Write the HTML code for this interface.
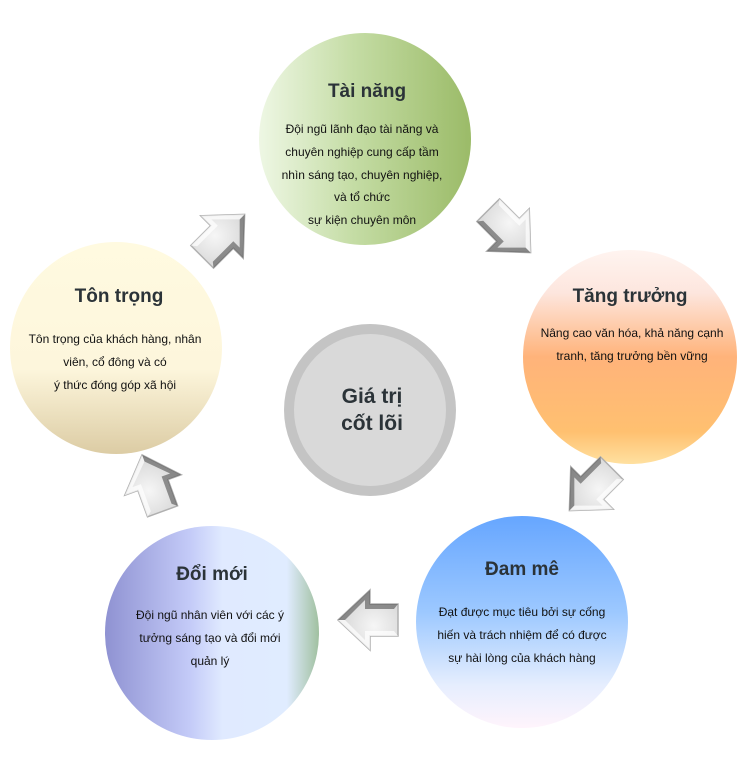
<!DOCTYPE html>
<html><head><meta charset="utf-8"><style>
body{margin:0;background:#fff;width:754px;height:768px;overflow:hidden}
svg text{font-family:"Liberation Sans",sans-serif;fill:#111}
.t{font-weight:bold;font-size:19px;fill:#2b3338}
.b{font-size:12px}
</style></head><body>
<svg width="754" height="768" viewBox="0 0 754 768">
<defs>
<linearGradient id="g1" x1="0" y1="0" x2="1" y2="0"><stop offset="0" stop-color="#eef7e4"/><stop offset="0.45" stop-color="#c4dca4"/><stop offset="1" stop-color="#9bbb68"/></linearGradient>
<linearGradient id="g2" x1="0" y1="0" x2="0" y2="1"><stop offset="0" stop-color="#fff4f0"/><stop offset="0.2" stop-color="#fde6de"/><stop offset="0.5" stop-color="#ffb37a"/><stop offset="0.85" stop-color="#ffc070"/><stop offset="1" stop-color="#ffe0a0"/></linearGradient>
<linearGradient id="g3" x1="0" y1="0" x2="0" y2="1"><stop offset="0" stop-color="#66a6ff"/><stop offset="0.45" stop-color="#9cc8ff"/><stop offset="0.8" stop-color="#e6eefe"/><stop offset="1" stop-color="#fff4fc"/></linearGradient>
<linearGradient id="g4" x1="0" y1="0" x2="1" y2="0"><stop offset="0" stop-color="#8f92d2"/><stop offset="0.4" stop-color="#c4cbf8"/><stop offset="0.55" stop-color="#e0eaff"/><stop offset="0.85" stop-color="#e0ecff"/><stop offset="1" stop-color="#a0c0a0"/></linearGradient>
<linearGradient id="g5" x1="0" y1="0" x2="0" y2="1"><stop offset="0" stop-color="#fffae0"/><stop offset="0.6" stop-color="#fdf6dc"/><stop offset="1" stop-color="#dccca4"/></linearGradient>
<radialGradient id="ga" cx="0.4" cy="0.4" r="0.7"><stop offset="0" stop-color="#f6f6f6"/><stop offset="1" stop-color="#d0d0d0"/></radialGradient>
<g id="ar"><polygon points="-28,-16 0,-16 0,-30 32,0 0,30 0,16 -28,16" fill="url(#ga)" stroke="#b0b0b0" stroke-width="1.5"/><polygon points="-28,16 0,16 0,30 32,0 25,0 5,20 5,11 -24,11" fill="#444" opacity="0.55"/><polygon points="-28,-16 0,-16 0,-30 32,0 25,0 5,-20 5,-11 -24,-11" fill="#fff" opacity="0.7"/></g>
</defs>
<circle cx="365" cy="139" r="106" fill="url(#g1)"/>
<circle cx="630" cy="357" r="107" fill="url(#g2)"/>
<circle cx="522" cy="622" r="106" fill="url(#g3)"/>
<circle cx="212" cy="633" r="107" fill="url(#g4)"/>
<circle cx="116" cy="348" r="106" fill="url(#g5)"/>
<circle cx="370" cy="410" r="86" fill="#c4c4c4"/>
<circle cx="370" cy="410" r="76" fill="#d9d9d9"/>
<text x="372" y="403" text-anchor="middle" class="t" style="font-size:21px">Giá trị</text>
<text x="372" y="430" text-anchor="middle" class="t" style="font-size:21px">cốt lõi</text>
<use href="#ar" transform="translate(222,237) rotate(-45)"/>
<use href="#ar" transform="translate(508,230) rotate(45)"/>
<use href="#ar" transform="translate(592,488) rotate(135)"/>
<use href="#ar" transform="translate(370,620) rotate(180)"/>
<use href="#ar" transform="translate(153,485) rotate(-110)"/>
<g text-anchor="middle">
<text x="367" y="97" class="t">Tài năng</text>
<text x="362" y="133" class="b">Đội ngũ lãnh đạo tài năng và</text>
<text x="362" y="156" class="b">chuyên nghiệp cung cấp tầm</text>
<text x="362" y="179" class="b">nhìn sáng tạo, chuyên nghiệp,</text>
<text x="362" y="201" class="b">và tổ chức</text>
<text x="362" y="224" class="b">sự kiện chuyên môn</text>
<text x="630" y="302" class="t">Tăng trưởng</text>
<text x="632" y="337" class="b">Nâng cao văn hóa, khả năng cạnh</text>
<text x="632" y="360" class="b">tranh, tăng trưởng bền vững</text>
<text x="522" y="575" class="t">Đam mê</text>
<text x="522" y="616" class="b">Đạt được mục tiêu bởi sự cống</text>
<text x="522" y="639" class="b">hiến và trách nhiệm để có được</text>
<text x="522" y="662" class="b">sự hài lòng của khách hàng</text>
<text x="212" y="580" class="t">Đổi mới</text>
<text x="210" y="619" class="b">Đội ngũ nhân viên với các ý</text>
<text x="210" y="642" class="b">tưởng sáng tạo và đổi mới</text>
<text x="210" y="665" class="b">quản lý</text>
<text x="119" y="302" class="t">Tôn trọng</text>
<text x="115" y="343" class="b">Tôn trọng của khách hàng, nhân</text>
<text x="115" y="366" class="b">viên, cổ đông và có</text>
<text x="115" y="389" class="b">ý thức đóng góp xã hội</text>
</g>
</svg>
</body></html>
